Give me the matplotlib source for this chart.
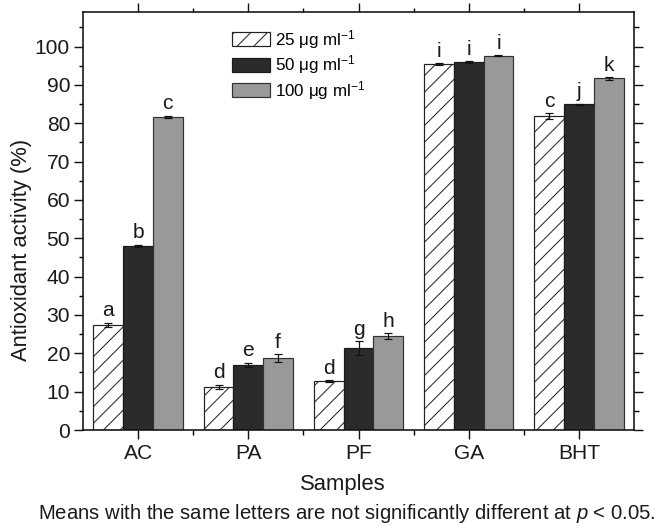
import matplotlib
matplotlib.use("Agg")
import matplotlib.pyplot as plt
import numpy as np

categories = ['AC', 'PA', 'PF', 'GA', 'BHT']
v25 = [27.4, 11.2, 12.8, 95.4, 81.9]
v50 = [48.0, 17.0, 21.4, 96.0, 84.9]
v100 = [81.7, 18.8, 24.4, 97.6, 91.7]
e25 = [0.6, 0.6, 0.2, 0.2, 0.7]
e50 = [0.3, 0.6, 1.8, 0.2, 0.2]
e100 = [0.3, 1.0, 0.8, 0.2, 0.4]
l25 = ['a', 'd', 'd', 'i', 'c']
l50 = ['b', 'e', 'g', 'i', 'j']
l100 = ['c', 'f', 'h', 'i', 'k']
series_labels = ['25 μg ml$^{-1}$', '50 μg ml$^{-1}$', '100 μg ml$^{-1}$']

DPI = 100
def pt(px):
    return px * 72.0 / DPI

plt.rcParams['font.family'] = ['Liberation Sans', 'DejaVu Sans']
plt.rcParams['mathtext.fontset'] = 'custom'
plt.rcParams['mathtext.rm'] = 'Liberation Sans'
plt.rcParams['mathtext.it'] = 'Liberation Sans:italic'
plt.rcParams['hatch.linewidth'] = pt(1.0)

fig = plt.figure(figsize=(661 / DPI, 528 / DPI), dpi=DPI)
ax = fig.add_axes([83 / 661, (528 - 430) / 528, (634 - 83) / 661, (430 - 12) / 528])

x = np.arange(1, len(categories) + 1)
w = 0.27
fs = pt(21)
tc = '#1a1a1a'

styles = [dict(facecolor='white', hatch='//', edgecolor='#222222'),
          dict(facecolor='#2b2b2b', edgecolor='#1a1a1a'),
          dict(facecolor='#999999', edgecolor='#333333')]
vals = [v25, v50, v100]
errs = [e25, e50, e100]
lets = [l25, l50, l100]
handles = []
for i, (v, e, l, st) in enumerate(zip(vals, errs, lets, styles)):
    xs = x + (i - 1) * w
    b = ax.bar(xs, v, w, linewidth=pt(1.2), label=series_labels[i], zorder=2, **st)
    handles.append(b)
    ax.errorbar(xs, v, yerr=e, fmt='none', ecolor='#111111', elinewidth=pt(1.2),
                capsize=pt(4), capthick=pt(1.2), zorder=3)
    for xi, vi, ei, li in zip(xs, v, e, l):
        ax.text(xi, vi + ei + 0.6, li, ha='center', va='bottom', fontsize=fs, color=tc)

ax.set_xlim(0.5, 5.5)
ax.set_ylim(0, 109)
ax.set_xticks(x)
ax.set_xticklabels(categories)
ax.set_xticks(np.arange(1.5, 5.5, 1.0), minor=True)
ax.set_yticks(np.arange(0, 101, 10))
ax.set_yticks(np.arange(5, 109, 10), minor=True)

for s in ax.spines.values():
    s.set_linewidth(pt(1.6))
    s.set_color('#111111')
ax.tick_params(axis='both', which='major', direction='out', length=pt(9), width=pt(1.4),
               labelsize=fs, colors='#111111', labelcolor=tc, top=True, right=True, pad=pt(4))
ax.tick_params(axis='both', which='minor', direction='out', length=pt(4.5), width=pt(1.4),
               top=True, right=True)
ax.tick_params(axis='x', which='major', pad=pt(5))

ax.set_xlabel('Samples', fontsize=pt(22), color=tc)
ax.xaxis.set_label_coords(0.472, -0.105)
ax.set_ylabel('Antioxidant activity (%)', fontsize=pt(22), color=tc)
ax.yaxis.set_label_coords(-0.0926, 0.43)

ax.legend(handles=handles, loc='upper left', bbox_to_anchor=(0.27, 0.962), frameon=False,
          fontsize=pt(17), handlelength=2.24, handleheight=0.88, handletextpad=0.3,
          labelspacing=0.15, borderaxespad=0, borderpad=0)

fig.text(347 / 661, 9 / 528, 'Means with the same letters are not significantly different at $p$ < 0.05.',
         ha='center', va='baseline', fontsize=pt(20.3), color=tc)

fig.savefig('out.png', dpi=DPI)
